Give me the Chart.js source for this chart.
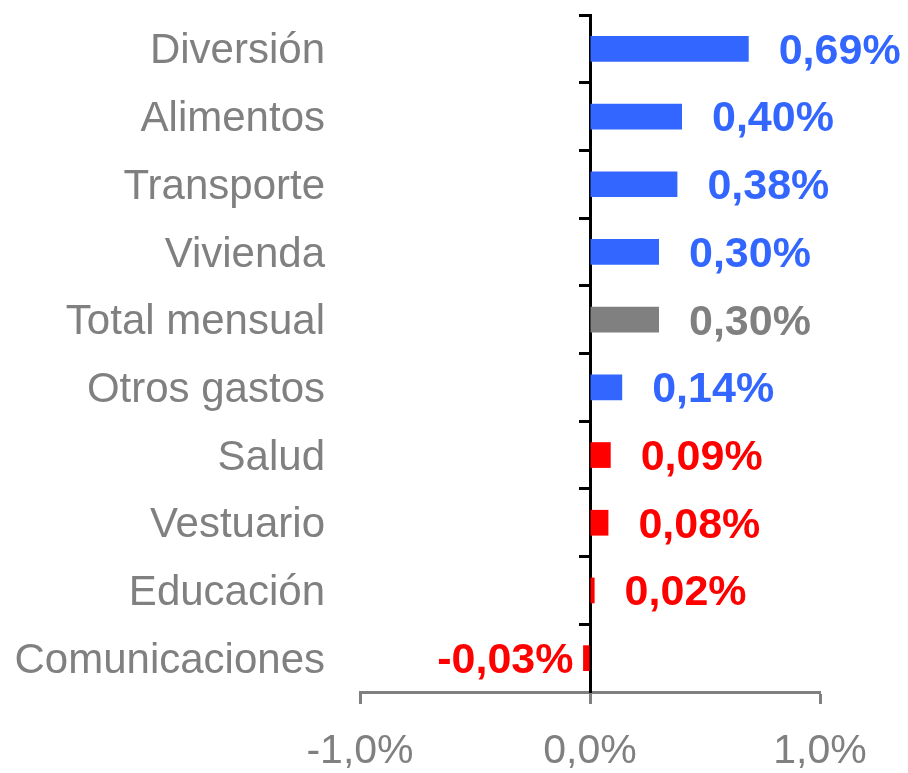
<!DOCTYPE html>
<html>
<head>
<meta charset="utf-8">
<script src="https://cdn.jsdelivr.net/npm/chart.js@4/dist/chart.umd.min.js"></script>
<style>
  html, body { margin: 0; padding: 0; background: #ffffff; }
</style>
</head>
<body>
<canvas id="myChart" width="908" height="773"></canvas>
<script>
// Categorías y variación mensual (%)
const categorias = ['Diversión', 'Alimentos', 'Transporte', 'Vivienda', 'Total mensual',
    'Otros gastos', 'Salud', 'Vestuario', 'Educación', 'Comunicaciones'];
const variacion = [0.69, 0.40, 0.38, 0.30, 0.30, 0.14, 0.09, 0.08, 0.02, -0.03];
const etiquetas = ['0,69%', '0,40%', '0,38%', '0,30%', '0,30%', '0,14%', '0,09%', '0,08%', '0,02%', '-0,03%'];
const coloresBarra = ['#3366FF', '#3366FF', '#3366FF', '#3366FF', '#808080',
    '#3366FF', '#FF0000', '#FF0000', '#FF0000', '#FF0000'];
const ticksX = ['-1,0%', '0,0%', '1,0%'];

const fuente = "'Liberation Sans', Arial, sans-serif";
const gris = '#808080';

// Etiquetas de valor al lado de cada barra
const etiquetasValor = {
    id: 'etiquetasValor',
    afterDatasetsDraw(chart) {
        const ctx = chart.ctx;
        const meta = chart.getDatasetMeta(0);
        ctx.save();
        ctx.font = 'bold 43px ' + fuente;
        ctx.textBaseline = 'middle';
        meta.data.forEach((bar, i) => {
            ctx.fillStyle = coloresBarra[i];
            if (variacion[i] >= 0) {
                ctx.textAlign = 'left';
                ctx.fillText(etiquetas[i], bar.x + 30, bar.y + 3);
            } else {
                ctx.textAlign = 'right';
                ctx.fillText(etiquetas[i], bar.base - 16, bar.y + 3);
            }
        });
        ctx.restore();
    }
};

new Chart(document.getElementById('myChart').getContext('2d'), {
    type: 'bar',
    data: {
        labels: categorias,
        datasets: [{
            data: variacion,
            backgroundColor: coloresBarra,
            borderWidth: 0,
            barPercentage: 0.38,
            categoryPercentage: 1
        }]
    },
    options: {
        indexAxis: 'y',
        responsive: false,
        animation: false,
        layout: { padding: { top: 15, right: 88, bottom: 0, left: 0 } },
        plugins: {
            legend: { display: false },
            tooltip: { enabled: false }
        },
        scales: {
            x: {
                min: -1,
                max: 1,
                ticks: {
                    stepSize: 1,
                    color: gris,
                    padding: 23,
                    font: { family: fuente, size: 41 },
                    callback: (v, i) => ticksX[i]
                },
                grid: {
                    drawOnChartArea: false,
                    drawTicks: true,
                    tickLength: 12,
                    tickColor: gris,
                    tickWidth: 3
                },
                border: { color: gris, width: 3 },
                afterFit: (s) => { s.height = 81; }
            },
            y: {
                offset: true,
                ticks: {
                    color: gris,
                    padding: 35,
                    labelOffset: 3,
                    font: { family: fuente, size: 42 }
                },
                grid: { display: false, drawTicks: false },
                border: { display: false },
                afterFit: (s) => {
                    s.width = 360;
                    s.paddingTop = 0;
                    s.paddingBottom = 0;
                }
            },
            // eje vertical en el cero con sus marcas
            yc: {
                type: 'category',
                axis: 'y',
                position: { x: 0 },
                offset: true,
                z: 1,
                ticks: { display: false },
                grid: {
                    offset: true,
                    drawOnChartArea: false,
                    drawTicks: true,
                    tickLength: 10,
                    tickColor: '#000000',
                    tickWidth: 3
                },
                border: { color: '#000000', width: 3 },
                afterFit: (s) => {
                    s.paddingTop = 0;
                    s.paddingBottom = 0;
                }
            }
        }
    },
    plugins: [etiquetasValor]
});
</script>
</body>
</html>
